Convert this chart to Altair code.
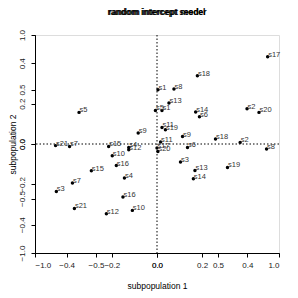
import altair as alt
import pandas as pd

labels = [f"s{i}" for i in range(1, 22)]

# first overlaid plot (axes -1 .. 1)
a_x = [0.008, 0.738, -0.825, -0.267, -0.639, 0.348, -0.693, 0.139, -0.154, -0.202, 0.041,
       -0.415, 0.098, 0.317, -0.538, -0.279, 0.907, 0.331, 0.069, 0.836, -0.677]
a_y = [0.498, 0.324, -0.435, -0.312, 0.290, 0.250, -0.358, 0.505, 0.101, -0.609, 0.152,
       -0.639, 0.376, 0.294, -0.245, -0.486, 0.801, 0.627, 0.131, 0.290, -0.591]

# second overlaid plot (axes about -0.54 .. 0.54)
b_x = [0.022, 0.368, 0.104, -0.125, -0.007, 0.135, -0.387, 0.485, 0.113, -0.198, 0.016,
       -0.125, 0.168, 0.161, -0.214, -0.180, 0.000, 0.259, 0.312, 0.004, -0.449]
b_y = [0.166, 0.008, -0.089, -0.017, 0.166, -0.017, -0.012, -0.025, 0.037, -0.058, 0.010,
       -0.028, -0.131, -0.172, -0.012, -0.107, -0.020, 0.025, -0.116, -0.037, -0.008]

ticks_a = [-1.0, -0.5, 0.0, 0.5, 1.0]
ticks_b = [-0.4, -0.2, 0.0, 0.2, 0.4]
dom_a = [-1.0, 1.0]
dom_b = [-0.54, 0.54]
titles = ["random intercept model", "random intercept seeder"]

FONT = "Liberation Sans"

df_a = pd.DataFrame({"x": a_x, "y": a_y, "lab": labels})
df_b = pd.DataFrame({"x": b_x, "y": b_y, "lab": labels})
zero = pd.DataFrame({"x": [0.0], "y": [0.0]})


def enc(dom, ticks, xtitle, ytitle):
    common = dict(grid=False, values=ticks, format=".1f", tickSize=4,
                  labelFont=FONT, labelFontSize=8, labelColor="#222",
                  domainColor="black", tickColor="black",
                  titleFont=FONT, titleFontSize=8.5, titleFontWeight="normal",
                  titleColor="black")
    x = alt.X("x:Q", scale=alt.Scale(domain=dom, nice=False, zero=False),
              axis=alt.Axis(orient="bottom", title=xtitle, labelPadding=4,
                            titlePadding=12, **common))
    y = alt.Y("y:Q", scale=alt.Scale(domain=dom, nice=False, zero=False),
              axis=alt.Axis(orient="left", title=ytitle, labelAngle=270,
                            labelAlign="center", labelBaseline="bottom",
                            labelPadding=5, titlePadding=1, **common))
    return x, y


def panel(df, dom, ticks, xtitle, ytitle, with_rules):
    x, y = enc(dom, ticks, xtitle, ytitle)
    pts = alt.Chart(df).mark_circle(size=12, color="black", opacity=1).encode(x=x, y=y)
    txt = alt.Chart(df).mark_text(align="left", baseline="alphabetic", dx=0.5, dy=0,
                                  font=FONT, fontSize=7.5, color="#333").encode(
        x=x, y=y, text="lab:N")
    layers = [pts, txt]
    if with_rules:
        vr = alt.Chart(zero).mark_rule(color="black", strokeWidth=1,
                                       strokeDash=[1.5, 2]).encode(x=x)
        hr = alt.Chart(zero).mark_rule(color="black", strokeWidth=1,
                                       strokeDash=[1.5, 2]).encode(y=y)
        layers = [vr, hr] + layers
    return alt.layer(*layers)


pa = panel(df_a, dom_a, ticks_a, "subpopulation 1", "subpopulation 2", True)
pb = panel(df_b, dom_b, ticks_b, None, None, False)

t_layers = []
for t in titles:
    t_layers.append(
        alt.Chart(pd.DataFrame({"t": [t]})).mark_text(
            align="center", baseline="middle", font=FONT, fontSize=8.5,
            fontWeight="bold", color="black").encode(
            text="t:N", x=alt.value(122), y=alt.value(-23)))

chart = alt.layer(pa, pb, *t_layers).resolve_scale(
    x="independent", y="independent").properties(
    width=244, height=218,
    autosize=alt.AutoSizeParams(type="none"),
    padding={"left": 27, "top": 27, "right": 11, "bottom": 45},
).configure_view(stroke="black", strokeWidth=1).configure(background="white")

chart.save("out.html", embed_options={"renderer": "svg", "actions": False})
